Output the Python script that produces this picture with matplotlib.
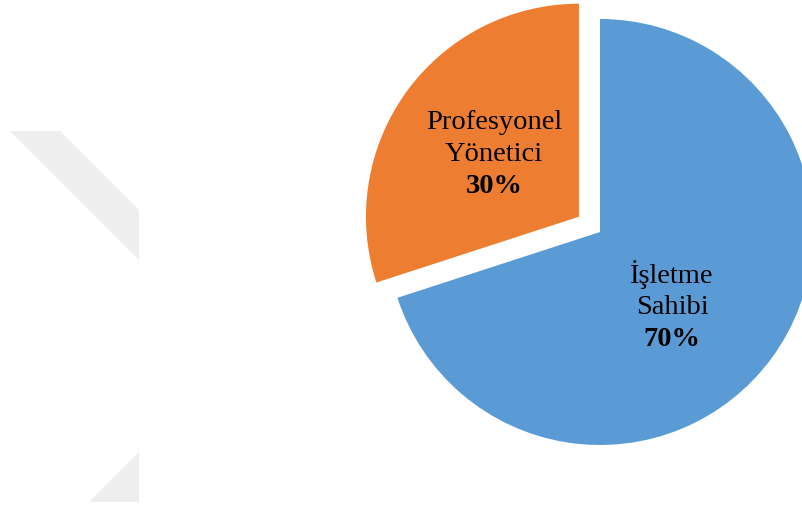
import matplotlib
matplotlib.use("Agg")
import matplotlib.pyplot as plt
from matplotlib.patches import Polygon

# Data
categories = ["İşletme\nSahibi", "Profesyonel\nYönetici"]
values = [70, 30]
pct_labels = ["70%", "30%"]
colors = ["#5B9BD5", "#ED7D31"]

W, H = 803, 507
fig = plt.figure(figsize=(W / 100, H / 100), dpi=100)
ax = fig.add_axes([0, 0, 1, 1])
ax.set_xlim(0, W)
ax.set_ylim(0, H)
ax.set_aspect("equal")
ax.axis("off")

# faint watermark shapes
wm = "#EEEEEE"
ax.add_patch(Polygon([(10, H - 131), (60, H - 131), (139, H - 210), (139, H - 260)],
                     closed=True, facecolor=wm, edgecolor="none", zorder=0))
ax.add_patch(Polygon([(139, H - 452), (139, H - 502), (89, H - 502)],
                     closed=True, facecolor=wm, edgecolor="none", zorder=0))

wedges, _ = ax.pie(values, colors=colors, startangle=90, counterclock=False,
                   explode=[0, 26], radius=213, center=(600, H - 232),
                   wedgeprops=dict(linewidth=0, edgecolor="none"), frame=True)
ax.set_xlim(0, W)
ax.set_ylim(0, H)
ax.axis("off")

font = "Liberation Serif"
offsets = [(72, -75), (-85, 62)]
step = 32
for w, cat, pct, (dx, dy) in zip(wedges, categories, pct_labels, offsets):
    cx, cy = w.center
    x, y = cx + dx, cy + dy
    lines = cat.split("\n")
    n = len(lines) + 1
    y0 = y + step * (n - 1) / 2
    for i, ln in enumerate(lines):
        ax.text(x, y0 - i * step, ln, ha="center", va="center", fontsize=20.5,
                family=font, color="black")
    ax.text(x, y0 - len(lines) * step, pct, ha="center", va="center", fontsize=20.5,
            family=font, fontweight="bold", color="black")

fig.savefig("out.png", dpi=100)
